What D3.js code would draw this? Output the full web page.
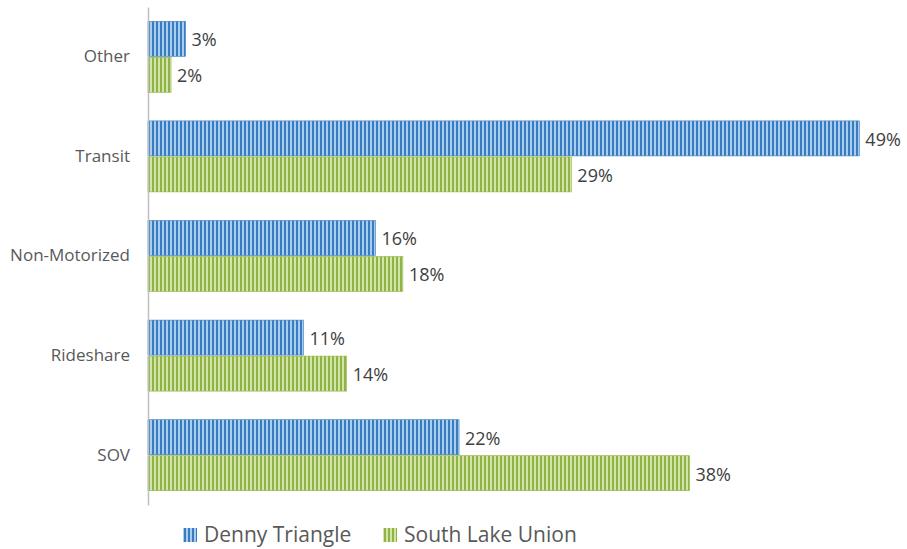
<!DOCTYPE html>
<html><head><meta charset="utf-8">
<script src="https://cdn.jsdelivr.net/npm/d3@7"></script>
<style>body{margin:0;background:#fff;} svg{display:block;font-family:"Open Sans","Noto Sans",sans-serif;}</style>
</head><body>
<svg id="c" width="907" height="549"></svg>
<script>
const categories = ["Other","Transit","Non-Motorized","Rideshare","SOV"];
const seriesNames = ["Denny Triangle","South Lake Union"];
const dennyTriangle = [2.6, 49.4, 15.8, 10.8, 21.6];
const southLakeUnion = [1.6, 29.4, 17.7, 13.8, 37.6];
const xDomainMax = 50;

const colors = [{dark:"#3a7cc0", light:"#a9cdee"},{dark:"#8fb347", light:"#d2e5a6"}];
const svg = d3.select("#c");
const defs = svg.append("defs");
colors.forEach((c,i)=>{
  const p = defs.append("pattern").attr("id","pat"+i).attr("patternUnits","userSpaceOnUse")
    .attr("width",4).attr("height",4);
  p.append("rect").attr("width",4).attr("height",4).attr("fill",c.light);
  p.append("rect").attr("width",2).attr("height",4).attr("fill",c.dark);
});

const x = d3.scaleLinear().domain([0,xDomainMax]).range([148,868]);
const y = d3.scaleBand().domain(categories).range([7,505]);
const inner = d3.scaleBand().domain(seriesNames).range([0,72]);
const fmt = v => d3.format(".0f")(v) + "%";

const data = categories.map((c,i)=>({cat:c, vals:[dennyTriangle[i], southLakeUnion[i]]}));

const g = svg.append("g");
data.forEach(d=>{
  d.vals.forEach((v,si)=>{
    const y0 = y(d.cat) + (y.bandwidth()-72)/2 + inner(seriesNames[si]);
    g.append("rect").attr("x",x(0)).attr("y",y0+0.5).attr("width",x(v)-x(0)).attr("height",inner.bandwidth()-1)
      .attr("fill","url(#pat"+si+")").attr("stroke",colors[si].dark).attr("stroke-width",0.6);
    g.append("text").attr("x",x(v)+6).attr("y",y0+inner.bandwidth()/2+1).attr("dy","0.35em")
      .attr("font-size",18).attr("fill","#404040").text(fmt(v));
  });
});

const yAxis = d3.axisLeft(y).tickSize(0).tickPadding(18);
const ya = svg.append("g").attr("transform","translate(148,0)").call(yAxis);
ya.select(".domain").attr("stroke","#bfbfbf").attr("stroke-width",1.5);
ya.selectAll("text").attr("font-size",17).attr("fill","#595959").attr("font-family","'Open Sans','Noto Sans',sans-serif");

const leg = svg.append("g");
const legX = [183, 383];
seriesNames.forEach((n,i)=>{
  leg.append("rect").attr("x",legX[i]).attr("y",528).attr("width",14).attr("height",14)
    .attr("fill","url(#pat"+i+")");
  leg.append("text").attr("x",legX[i]+21).attr("y",535).attr("dy","0.35em")
    .attr("font-size",21).attr("fill","#595959").text(n);
});
</script>
</body></html>
